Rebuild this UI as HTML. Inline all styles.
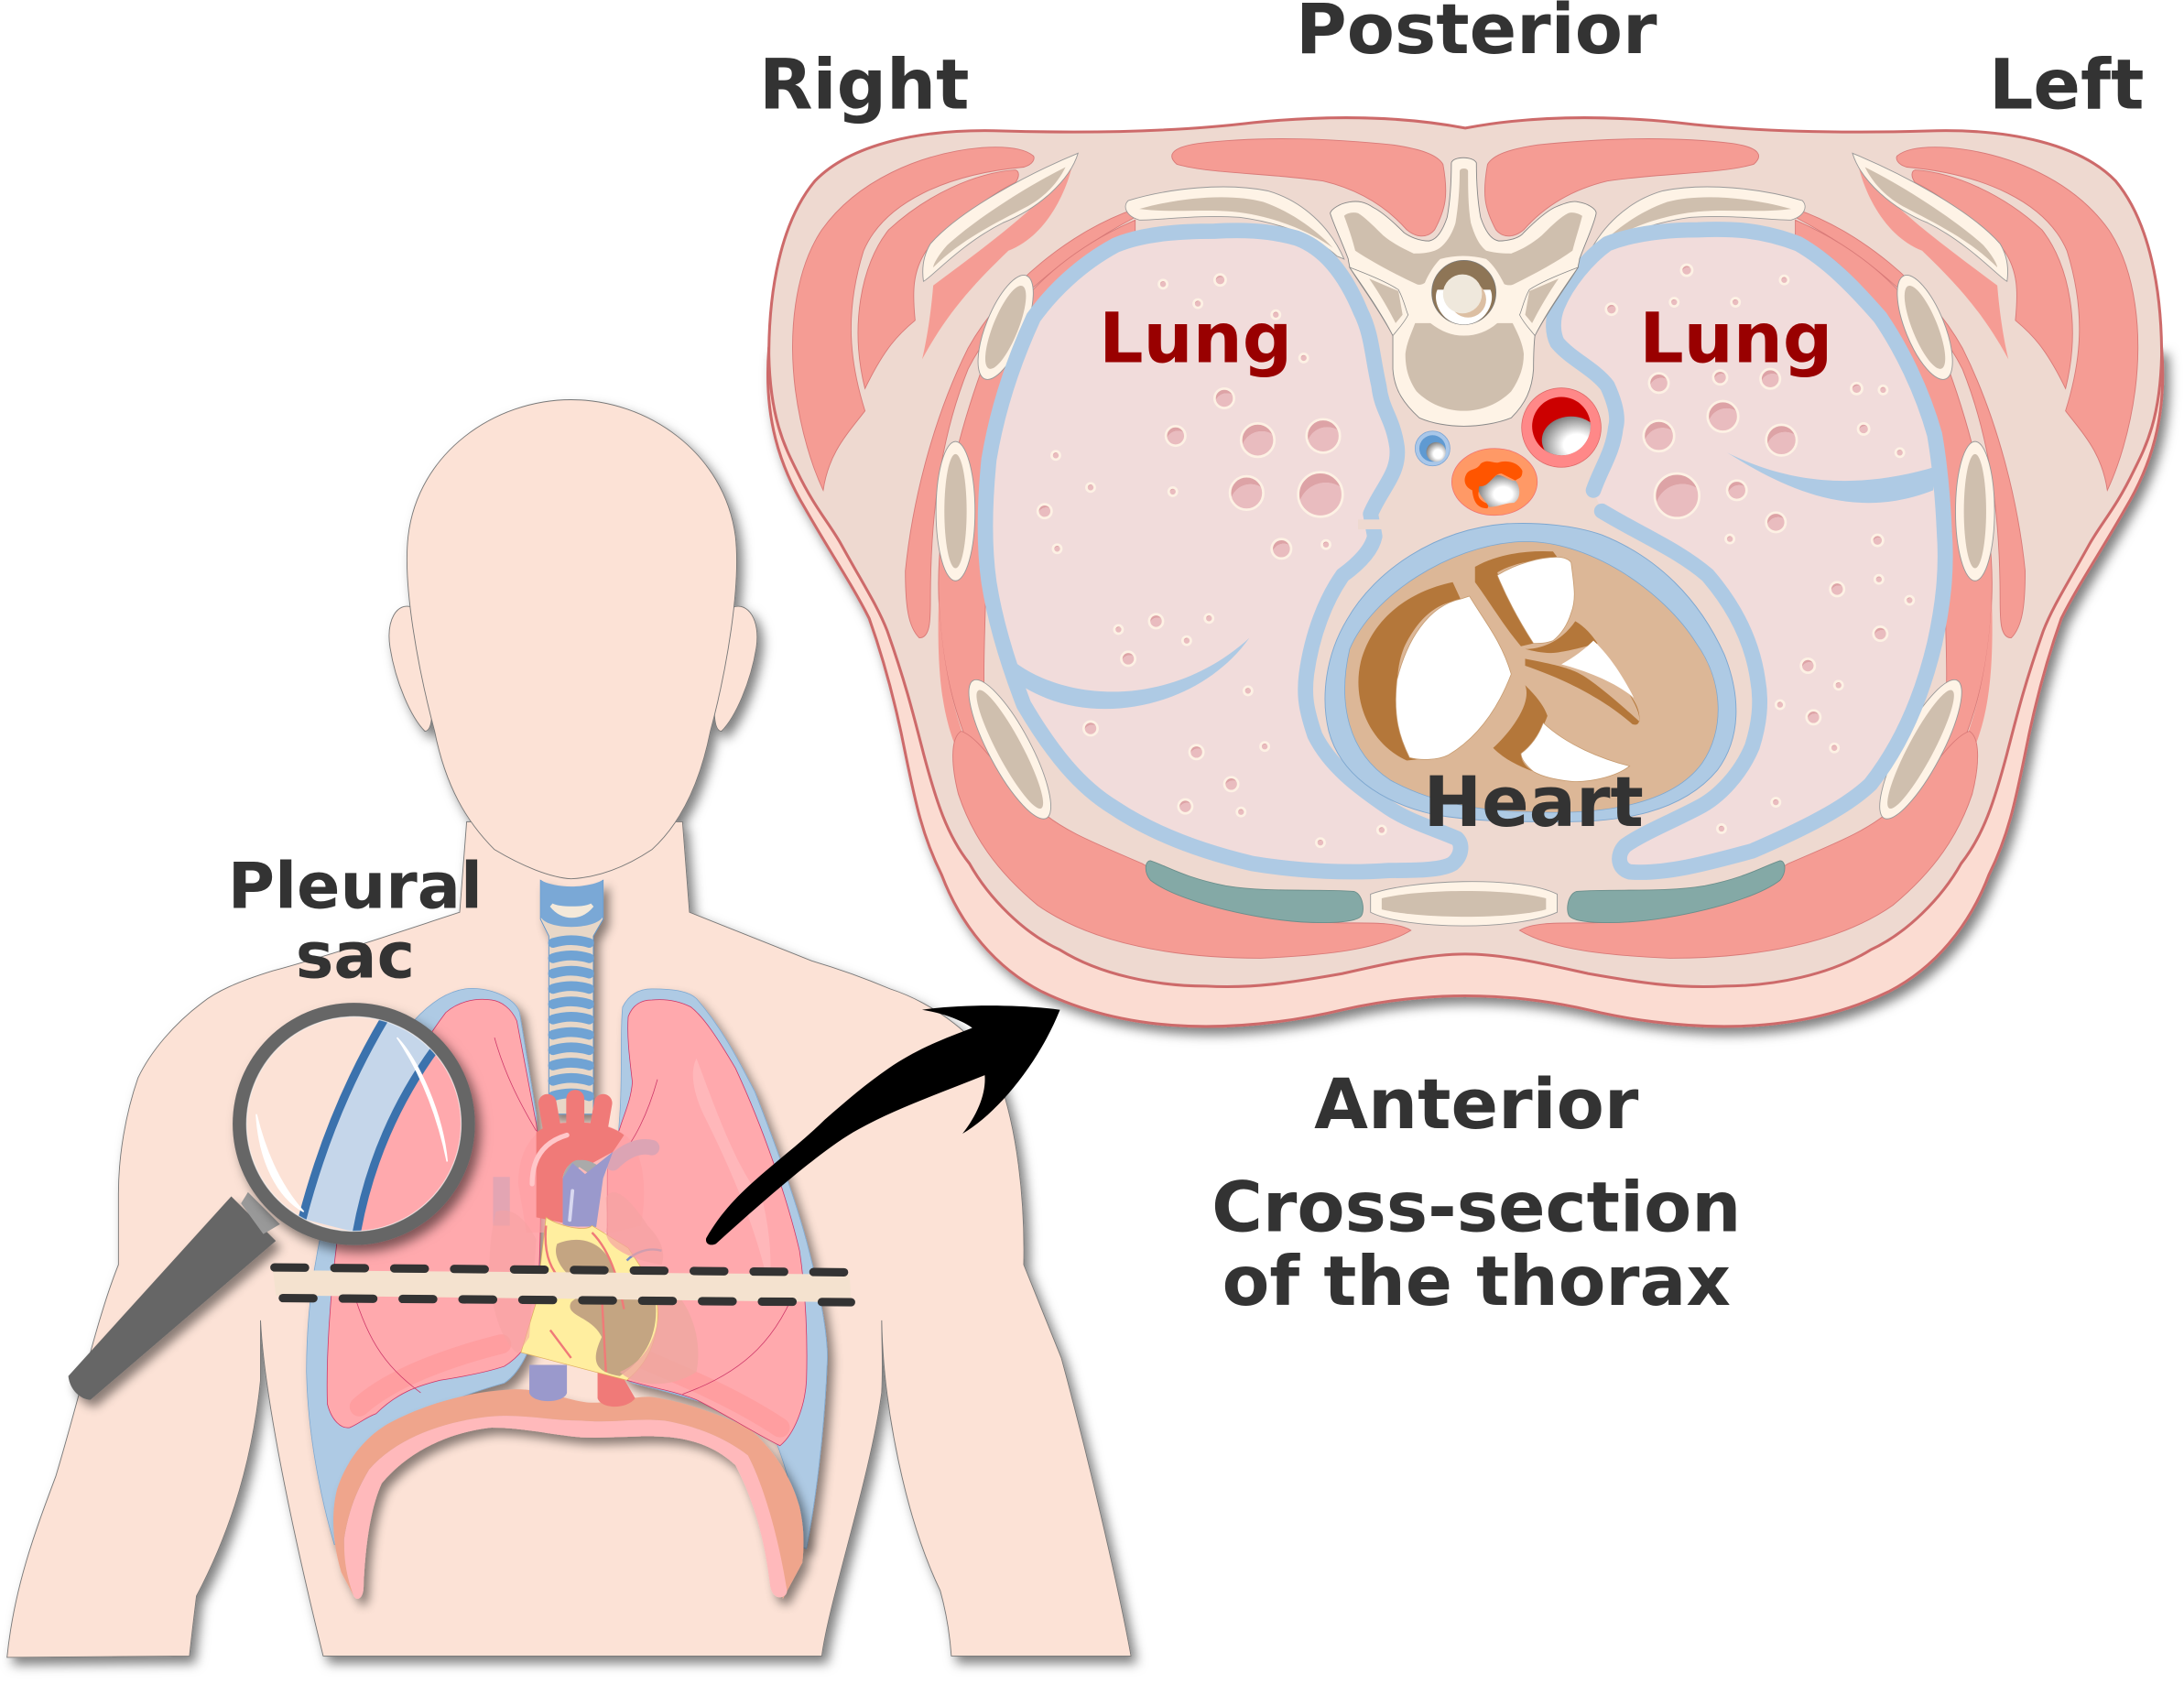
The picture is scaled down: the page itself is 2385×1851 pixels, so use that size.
<!DOCTYPE html>
<html><head><meta charset="utf-8"><style>
html,body{margin:0;padding:0;background:#fff}
svg{display:block}
text{font-family:"DejaVu Sans",sans-serif;font-weight:bold;fill:#333;font-size:50px}
.m{text-anchor:middle}
</style></head><body>
<svg width="2385" height="1851" viewBox="0 0 1568 1217" xmlns="http://www.w3.org/2000/svg">
<defs>
<filter id="sh" x="-10%" y="-10%" width="125%" height="125%"><feDropShadow dx="4" dy="5" stdDeviation="4" flood-color="#000" flood-opacity=".5"/></filter>
<filter id="sh2" x="-20%" y="-20%" width="150%" height="150%"><feDropShadow dx="4" dy="5" stdDeviation="3.5" flood-color="#000" flood-opacity=".45"/></filter>
<radialGradient id="lum" cx=".6" cy=".6" r=".65"><stop offset=".35" stop-color="#fff"/><stop offset="1" stop-color="#777"/></radialGradient>
<radialGradient id="nod" cx=".62" cy=".85" r=".62"><stop offset=".99" stop-color="#e9bcbf"/><stop offset="1" stop-color="#dda3a6"/></radialGradient>
<clipPath id="aoC"><circle cx="1121" cy="306" r="21"/></clipPath>
<clipPath id="magC"><ellipse cx="254" cy="807" rx="77" ry="77"/></clipPath>
<clipPath id="canal"><circle cx="1051" cy="210" r="23"/></clipPath>
<g id="half">
 <!-- outer muscles -->
 <path d="M742 112C735 106 720 105 705 106C660 110 615 130 590 165C570 195 566 240 571 280C575 310 583 335 591 352C595 325 608 312 621 295C610 260 606 225 620 180C635 145 680 125 735 120C742 118 743 114 742 112Z" fill="#f59c94" stroke="#d97a78" stroke-width=".6"/>
 <path d="M729 122C700 124 665 140 638 165C618 190 610 235 621 279C635 250 645 240 657 230C655 210 655 195 665 180C685 160 710 140 729 131C732 127 732 123 729 122Z" fill="#f59c94" stroke="#d97a78" stroke-width=".6"/>
 <path d="M770 118C745 150 710 175 670 205C668 230 664 250 662 258C680 225 698 205 724 180C750 170 765 140 770 118Z" fill="#f59c94"/>
 <!-- intercostal -->
 <path d="M815 150C770 165 720 205 695 250C670 300 655 360 650 410C650 435 652 450 660 458C668 458 668 445 668 430C668 370 675 315 695 265C715 225 760 185 815 156Z" fill="#f59c94" stroke="#d97a78" stroke-width=".6"/>
 <path d="M815 158C765 180 725 215 705 265C685 320 672 380 674 430C676 490 690 530 720 590C700 520 708 470 708 400C708 340 725 270 760 215C780 190 800 175 815 170Z" fill="#f59c94" stroke="#d97a78" stroke-width=".6"/>
 <path d="M720 585C690 540 677 490 674 430C672 490 678 520 690 545L715 600Z" fill="#f59c94"/>
 <!-- lower muscle -->
 <path d="M690 525C682 530 683 550 688 570C698 600 715 625 745 650C785 678 845 688 905 688C950 686 990 682 1013 668C1000 660 970 664 950 662C905 656 860 645 820 620C785 605 760 595 745 580C720 560 705 530 690 525Z" fill="#f59c94" stroke="#d97a78" stroke-width=".6"/>
 <!-- top back muscle -->
 <path d="M1036 118C1040 140 1038 150 1030 165C1024 172 1016 170 1010 165C995 148 975 136 950 130C910 124 870 125 845 118C838 112 840 106 860 103C910 97 960 100 1000 104C1020 107 1032 111 1036 118Z" fill="#f59c94" stroke="#d97a78" stroke-width=".6"/>
 <!-- shoulder blade -->
 <path d="M774 110C740 124 690 150 668 175C662 185 662 195 663 202C668 200 690 175 720 160C745 150 768 130 774 110Z" fill="#fef3e6" stroke="#999" stroke-width=".6"/>
 <path d="M765 120C735 135 700 158 680 176C673 184 670 190 670 192C690 172 715 160 738 148C752 140 760 130 765 120Z" fill="#cfbfae"/>
 <!-- ribs -->
 <ellipse cx="686" cy="367" rx="14" ry="50" fill="#fef3e6" stroke="#999" stroke-width=".6"/>
 <ellipse cx="686" cy="367" rx="8" ry="41" fill="#cfbfae"/>
 <ellipse cx="722" cy="235" rx="14" ry="40" transform="rotate(22 722 235)" fill="#fef3e6" stroke="#999" stroke-width=".6"/>
 <ellipse cx="722" cy="235" rx="9" ry="32" transform="rotate(22 722 235)" fill="#cfbfae"/>
 <ellipse cx="725" cy="538" rx="15" ry="56" transform="rotate(-28 725 538)" fill="#fef3e6" stroke="#999" stroke-width=".6"/>
 <ellipse cx="725" cy="538" rx="9" ry="48" transform="rotate(-28 725 538)" fill="#cfbfae"/>
 <!-- top rib -->
 <path d="M810 144C840 135 880 131 910 137C935 144 955 163 965 186L960 184C945 170 920 160 890 156C860 154 835 158 818 158C808 155 806 148 810 144Z" fill="#fef3e6" stroke="#999" stroke-width=".6"/>
 <path d="M818 150C850 141 885 139 907 145C927 152 945 165 957 178C940 166 915 155 885 152C865 150 840 153 818 150Z" fill="#cfbfae"/>
 <!-- teal cartilage -->
 <path d="M826 618C838 622 850 630 880 636C910 641 945 638 972 640C979 642 980 655 977 658C972 663 945 664 915 660C875 654 840 643 826 632C821 626 822 618 826 618Z" fill="#84a9a6" stroke="#6a8e8b" stroke-width=".6"/>
</g>
</defs>

<!-- ============ BODY ============ -->
<g filter="url(#sh)">
<path d="M335 590L330 655C290 668 240 685 196 697C170 705 155 712 145 720C125 735 108 755 99 774C90 800 85 830 85 857L85 908C70 945 58 1000 40 1060C25 1100 10 1140 5 1190L136 1189C138 1170 140 1155 141 1146C160 1110 180 1060 187 991L187 948C190 1010 215 1120 232 1189L590 1189C595 1150 625 1060 633 1000C634 980 633 965 633 948C634 1010 650 1090 675 1142C680 1160 682 1175 683 1189L812 1189C805 1150 785 1060 762 975L735 908C736 860 730 810 717 774C705 745 670 720 639 710C620 702 600 695 583 690L495 655L490 590Z" fill="#fce2d6" stroke="#777" stroke-width=".6"/>
<path d="M296 436C285 432 277 445 280 465C284 490 295 515 305 525C312 525 310 505 310 480L300 440Z" fill="#fce2d6" stroke="#777" stroke-width=".6"/>
<path d="M526 436C537 432 546 445 543 465C539 490 528 515 518 525C511 525 513 505 513 480L523 440Z" fill="#fce2d6" stroke="#777" stroke-width=".6"/>
<path d="M410 287C355 287 300 325 293 385C289 420 300 480 312 525C320 565 335 590 355 610C375 622 395 630 410 631C430 630 450 622 468 610C490 590 503 560 510 525C522 480 532 420 528 385C520 325 465 287 410 287Z" fill="#fce2d6" stroke="#777" stroke-width=".6"/>
</g>
<!-- trachea -->
<g filter="url(#sh2)">
<path d="M388 632C400 640 420 640 433 632L433 660L426 672L426 800L394 800L394 672L388 660Z" fill="#e8d7c7" stroke="#5a91c8" stroke-width=".6"/>
</g>
<path d="M388 632C400 638 420 638 433 632L433 658C428 668 392 668 388 658Z" fill="#7aa8d6"/>
<path d="M396 650C404 660 417 660 425 650C420 653 402 653 396 650Z" fill="#f4e9da" stroke="#f4e9da" stroke-width="3"/>
<g stroke="#70a3d4" stroke-width="7" stroke-linecap="round" fill="none">
<path d="M397 677Q410 673 423 677M397 688Q410 684 423 688M397 699Q410 695 423 699M397 710Q410 706 423 710M397 721Q410 717 423 721M397 732Q410 728 423 732M397 743Q410 739 423 743M397 754Q410 750 423 754M397 765Q410 761 423 765M397 776Q410 772 423 776M397 787Q410 783 423 787"/>
</g>
<!-- pleural sac -->
<g filter="url(#sh2)">
<path d="M334 710C320 712 307 722 297 733C285 745 277 760 270 774C250 815 235 860 228 898C222 930 220 960 220 985C221 1030 230 1075 240 1109L245 1105C246 1085 250 1075 262 1050C280 1022 320 1005 362 993C375 985 385 960 388 940L385 800C380 770 376 745 373 727C370 716 350 708 334 710Z" fill="#aecae4" stroke="#7da7d0" stroke-width=".5"/>
<path d="M447 723C452 713 460 710 468 710C485 710 495 712 500 717C520 740 532 765 542 784C560 830 572 865 579 891C588 925 594 955 594 975C592 1030 585 1080 579 1112L574 1110C572 1080 565 1055 556 1032C530 1012 490 1002 454 993C440 985 435 965 435 940L445 800C447 770 445 740 447 723Z" fill="#aecae4" stroke="#7da7d0" stroke-width=".5"/>
</g>
<!-- diaphragm -->
<g filter="url(#sh2)">
<path d="M245 1129C238 1105 238 1085 242 1069C250 1045 265 1030 279 1022C305 1008 335 1000 362 998C385 995 405 1005 422 1007C440 1008 455 1002 468 1003C490 1006 515 1015 537 1025C555 1040 568 1060 574 1082C578 1100 577 1112 576 1122L562 1148C560 1110 550 1070 537 1045C520 1032 500 1024 477 1020C455 1018 440 1022 417 1020C395 1020 375 1015 353 1017C320 1020 285 1032 265 1055C256 1070 250 1085 247 1105C247 1118 248 1130 254 1146Z" fill="#efa58c"/>
<path d="M254 1146C248 1130 247 1118 247 1105C250 1085 256 1070 265 1055C285 1032 320 1020 353 1017C375 1015 395 1020 417 1020C440 1022 455 1018 477 1020C500 1024 520 1032 537 1045C550 1070 560 1110 565 1142C565 1148 555 1150 553 1139C550 1115 545 1085 528 1052C515 1040 500 1034 482 1032C460 1030 440 1033 417 1032C395 1030 375 1025 353 1025C325 1028 295 1040 274 1065C265 1085 262 1115 261 1139C261 1148 256 1150 254 1146Z" fill="#ffb9bb"/>
</g>
<!-- lower vessels -->
<path d="M380 980L407 980L407 1000C405 1008 382 1008 380 1000Z" fill="#9a99cc"/>
<path d="M429 985L445 985L456 1004C450 1012 432 1012 429 1004Z" fill="#f07a78"/>
<!-- lungs -->
<path d="M353 718C340 716 328 720 320 727C295 760 270 810 255 850C245 870 240 885 242 891C237 930 234 975 235 1008C238 1020 245 1026 251 1025C258 1022 262 1018 270 1015C285 1000 300 995 316 991C335 988 350 985 362 981C372 975 380 965 385 951C388 900 390 850 385 807C380 780 375 755 371 733C367 724 360 719 353 718Z" fill="#ffa9ad" stroke="#cc3366" stroke-width=".5"/>
<path d="M468 718C460 718 454 722 451 730C450 745 452 760 454 777C453 790 448 800 445 810C440 825 436 835 436 844L436 960C438 975 445 988 450 991C470 997 485 999 500 1005C520 1015 540 1028 560 1038C570 1030 578 1010 579 991C580 955 578 925 574 898C565 860 548 810 528 767C515 745 505 730 496 723C488 719 478 717 468 718Z" fill="#ffa9ad" stroke="#cc3366" stroke-width=".5"/>
<path d="M500 760C508 780 528 840 547 860C552 880 555 905 552 925C545 890 530 850 505 800C498 785 495 770 500 760Z" fill="#ffb7ba"/>
<path d="M258 1010C280 990 320 975 360 965" stroke="#ff9ea0" stroke-width="14" fill="none" stroke-linecap="round"/>
<path d="M460 975C495 990 530 1005 560 1025" stroke="#ff9ea0" stroke-width="14" fill="none" stroke-linecap="round"/>
<path d="M355 745C362 770 372 790 385 812M472 775C465 800 455 820 445 830" stroke="#cc3366" stroke-width=".5" fill="none"/>
<path d="M250 915C262 960 275 980 302 1000M575 915C560 960 535 985 490 1001" stroke="#cc3366" stroke-width=".5" fill="none"/>
<!-- heart group -->
<path d="M372 850C372 825 384 812 395 808C400 806 410 805 416 806C430 805 445 810 452 818C462 830 465 855 460 880L440 885L378 885Z" fill="#ffa0a3" opacity=".6"/>
<path d="M440 835C450 825 460 822 468 824" stroke="#dca4b4" stroke-width="11" stroke-linecap="round" fill="none"/>
<path d="M360 845L360 880" stroke="#dca4b4" stroke-width="12" fill="none" opacity=".8"/>
<g stroke="#f07a78" stroke-width="13" stroke-linecap="round"><path d="M393 792L397 815M413 789L413 812M433 792L429 815"/></g>
<path d="M385 813C395 806 405 806 416 806C430 806 442 810 448 815L440 827L420 838C412 830 405 838 404 846L404 878L385 874Z" fill="#f07a78"/>
<path d="M404 846C405 838 412 832 416 833C422 832 428 836 431 838L422 842L416 838Z" fill="#aaa"/>
<path d="M404 846L411 835L420 843L440 827L433 846L428 881C420 880 410 882 404 879Z" fill="#9a99cc"/>
<path d="M411 855L409 876" stroke="#d8d8f0" stroke-width="2.5" stroke-linecap="round"/>
<path d="M382 850C382 832 390 820 407 815" stroke="#ffc7c9" stroke-width="3.5" stroke-linecap="round" fill="none"/>
<path d="M392 874C400 880 420 885 425 880L451 896L470 925C476 950 470 975 450 991L374 971L385 935Z" fill="#ffee9f" stroke="#e0b060" stroke-width=".5"/>
<path d="M400 893C420 885 435 895 440 910C445 915 443 925 440 930C410 925 395 905 400 893Z" fill="#c4a582"/>
<path d="M410 935C420 925 450 925 470 930C474 955 465 975 445 988C425 985 425 975 432 960C425 945 405 945 410 935Z" fill="#c4a582"/>
<path d="M392 880C390 900 395 915 410 925M425 885C440 900 445 925 448 940M432 930L435 985M395 955L410 975" stroke="#f07a78" stroke-width="1.6" fill="none"/>
<path d="M450 905C455 900 465 895 475 898" stroke="#7a8fc8" stroke-width="1.6" fill="none"/>
<path d="M435 860C440 850 452 860 465 880C475 890 478 900 475 908C455 905 430 895 436 880Z" fill="#f5a3a3" opacity=".7"/>
<path d="M470 915C495 930 505 960 500 985C480 998 455 995 445 985C470 975 478 945 470 915Z" fill="#efa8a0" opacity=".8"/>
<path d="M356 870C370 865 380 880 385 890L380 960L372 972C355 960 345 915 356 870Z" fill="#f5a3a3" opacity=".55"/>
<!-- slice -->
<path d="M196 912L610 915L611 935L198 930Z" fill="#f4e2cf"/>
<g stroke="#333" stroke-width="6" stroke-linecap="round" stroke-dasharray="22 21" fill="none">
<path d="M197 910L607 913.5"/>
<path d="M203 932L611 935"/>
</g>
<!-- magnifier -->
<path d="M166 859L198 891L65 1005C58 1005 50 998 49 988Z" fill="#666" filter="url(#sh2)"/>
<path d="M173 864L178 856L201 879L189 886Z" fill="#999"/>
<g filter="url(#sh)"><ellipse cx="254" cy="807" rx="87" ry="87" fill="#666"/></g>
<g clip-path="url(#magC)">
<rect x="170" y="720" width="170" height="170" fill="#fce2d6"/>
<path d="M277 730L380 730L380 890L256 890C262 840 280 790 311 754Z" fill="#ffa9ad"/>
<path d="M277 730L311 750C282 795 262 840 256 885L217 875C232 825 250 775 277 730Z" fill="#c5d6ea"/>
<path d="M277 730C250 775 230 825 217 875M313 752C285 790 265 835 256 885" stroke="#3b72ad" stroke-width="6" fill="none"/>
<path d="M285 745C300 760 318 800 321 834C314 800 302 770 285 745Z" fill="#fff" stroke="#fff" stroke-width="1"/>
<path d="M184 800C186 835 200 860 218 870C200 850 190 825 184 800Z" fill="#fff" stroke="#fff" stroke-width="1"/>
</g>
<ellipse cx="254" cy="807" rx="77" ry="77" fill="none" stroke="#fff" stroke-width=".8" opacity=".6"/>
<!-- black arrow -->
<path d="M507 889C518 870 530 858 546 844C562 830 578 818 592 804C608 790 622 778 638 767C660 752 680 745 698 738C690 732 675 727 662 725C690 721 730 721 761 725C745 765 715 800 691 814C702 800 708 785 707 772C675 785 645 795 616 811C590 825 545 865 514 893C510 895 506 893 507 889Z" fill="#000"/>

<!-- ============ CROSS SECTION ============ -->
<g filter="url(#sh)">
<path d="M552 250C548 300 560 335 578 365C595 395 612 420 624 444C635 475 643 505 650 541C657 575 662 600 676 628C690 665 715 695 748 712C785 730 825 737 866 737C900 737 935 732 964 725C995 718 1025 715 1052 715C1079 715 1109 718 1140 725C1169 732 1204 737 1238 737C1279 737 1319 730 1356 712C1389 695 1414 665 1428 628C1442 600 1447 575 1454 541C1461 505 1469 475 1480 444C1492 420 1509 395 1526 365C1544 335 1556 300 1552 250Z" fill="#fbdcd2" stroke="#cd6a6a" stroke-width="2"/>
</g>
<path d="M1052 92C1010 84 960 82 900 88C850 94 790 96 720 94C660 92 610 104 585 130C560 160 552 210 552 255C553 300 563 320 572 338C585 365 595 375 604 391C620 420 630 435 637 453C650 490 655 510 663 541C672 575 680 600 696 620C710 645 735 670 761 682C790 700 830 708 866 708C900 710 930 705 964 699C995 692 1025 685 1052 685C1079 685 1109 692 1140 699C1174 705 1204 710 1238 708C1274 708 1314 700 1343 682C1369 670 1394 645 1408 620C1424 600 1432 575 1441 541C1449 510 1454 490 1467 453C1474 435 1484 420 1500 391C1509 375 1519 365 1532 338C1541 320 1551 300 1552 255C1552 210 1544 160 1519 130C1494 104 1444 92 1384 94C1314 96 1254 94 1204 88C1144 82 1094 84 1052 92Z" fill="#eed9d0" stroke="#cd6a6a" stroke-width="2"/>
<use href="#half"/>
<use href="#half" transform="matrix(-1 0 0 1 2104 0)"/>
<!-- sternum -->
<path d="M984 642C1010 632 1090 628 1118 642L1118 655C1090 668 1010 668 984 655Z" fill="#fef3e6" stroke="#999" stroke-width=".6"/>
<path d="M992 645C1020 638 1085 638 1110 645L1110 653C1085 660 1020 660 992 653Z" fill="#cfbfae"/>
<!-- lungs cross-section -->
<path d="M984 369C992 350 1005 340 1003 321C1000 300 992 295 990 277C985 255 985 240 977 224C965 195 950 178 931 171C910 165 890 165 872 166C845 166 820 168 801 176C775 190 755 210 742 228C725 265 715 300 710 330C707 360 706 390 710 418C715 450 725 480 735 506C755 540 775 565 800 580C830 600 865 612 899 620C935 626 970 627 997 625C1015 625 1035 625 1043 620C1050 614 1050 606 1046 602C1030 595 1012 590 997 580C975 565 955 550 944 528C938 510 936 500 938 484C942 455 952 430 964 413C975 405 985 395 987 385Z" fill="#f1dcdb" stroke="#aecae4" stroke-width="11" stroke-linejoin="round"/>
<rect x="975" y="373" width="22" height="7" fill="#eed9d0"/>
<path d="M1150 367C1180 385 1205 395 1226 413C1245 435 1258 460 1262 488C1265 505 1263 520 1258 536C1250 555 1235 572 1219 580C1200 590 1180 598 1167 607C1160 614 1162 624 1170 626C1195 628 1225 620 1258 611C1295 595 1325 580 1343 563C1365 535 1380 500 1389 462C1395 435 1398 410 1396 382C1395 360 1393 335 1389 312C1380 280 1365 250 1350 228C1330 205 1312 187 1291 175C1265 165 1245 164 1219 165C1195 165 1172 168 1154 175C1140 185 1125 203 1118 220C1114 230 1115 240 1118 246C1128 258 1145 265 1154 277C1160 290 1162 300 1160 307C1158 325 1150 335 1144 352" fill="#f1dcdb" stroke="#aecae4" stroke-width="11" stroke-linejoin="round" stroke-linecap="round"/>
<path d="M722 470C760 505 840 510 897 458C860 510 780 525 730 490Z" fill="#aecae4"/>
<path d="M1240 325C1290 350 1340 350 1390 335L1388 352C1330 375 1280 350 1240 325Z" fill="#aecae4"/>
<!-- heart cross-section -->
<path d="M1082 376C1030 380 987 410 967 445C952 470 948 500 954 525C962 555 990 576 1030 585C1060 590 1085 590 1115 590C1165 591 1208 583 1233 553C1250 530 1250 500 1238 470C1220 430 1190 400 1150 384C1130 377 1105 375 1082 376Z" fill="#aecae4" stroke="#7da7d0" stroke-width=".6"/>
<path d="M1090 389C1040 392 985 428 969 466C960 505 968 540 998 560C1030 578 1070 583 1101 583C1150 585 1200 578 1222 548C1238 525 1238 490 1218 462C1195 425 1140 386 1090 389Z" fill="#dcb797" stroke="#7da7d0" stroke-width=".5"/>
<path d="M1043 418C1010 425 985 445 977 475C970 505 985 535 1010 546L1020 545C1005 520 998 490 1008 465C1020 440 1035 432 1049 431Z" fill="#b4773a"/>
<path d="M1049 430C1025 435 1010 460 1003 488C1000 515 1005 530 1012 544C1020 546 1032 546 1040 542C1060 530 1075 510 1085 484C1078 460 1065 445 1055 428Z" fill="#fff" stroke="#c69a6e" stroke-width=".5"/>
<path d="M1059 407C1075 398 1095 395 1115 396L1118 400C1100 402 1085 405 1075 411C1082 430 1092 448 1101 462L1092 464C1080 450 1068 430 1059 418Z" fill="#b4773a"/>
<path d="M1075 413C1088 405 1105 400 1118 400C1123 400 1127 402 1128 404C1130 420 1132 430 1128 440C1125 450 1120 456 1115 460C1110 462 1105 462 1101 462C1092 448 1082 430 1075 413Z" fill="#fff" stroke="#c69a6e" stroke-width=".5"/>
<path d="M1095 466C1105 466 1120 462 1131 446C1138 450 1143 456 1147 462C1135 465 1128 467 1121 468C1112 470 1103 468 1095 466Z" fill="#b4773a"/>
<path d="M1121 477C1130 472 1138 466 1144 460C1155 470 1165 485 1173 501C1160 490 1140 482 1121 477Z" fill="#fff"/>
<path d="M1095 473C1120 478 1130 480 1141 488C1155 498 1168 510 1177 518C1178 510 1173 502 1170 499C1180 515 1178 522 1172 520C1155 505 1130 490 1095 478Z" fill="#b4773a"/>
<path d="M1095 492C1100 505 1085 525 1072 537C1080 545 1090 550 1101 554C1094 550 1092 545 1092 541C1100 535 1107 525 1111 514C1108 505 1100 497 1095 492Z" fill="#b4773a"/>
<path d="M1108 519C1125 535 1150 545 1170 550C1160 558 1140 562 1128 561C1118 560 1108 558 1101 554C1096 550 1092 545 1092 541C1100 535 1105 527 1108 519Z" fill="#fff" stroke="#c69a6e" stroke-width=".5"/>
<!-- vertebra -->
<path d="M1042 117C1043 112 1058 112 1060 117C1060 130 1061 145 1063 156C1066 165 1070 172 1076 173C1085 173 1092 170 1094 167C1103 158 1110 152 1116 149C1125 145 1130 144 1133 145C1140 146 1146 150 1146 153C1145 160 1138 175 1134 186C1134 188 1133 190 1133 192C1125 205 1112 222 1102 241C1101 250 1101 258 1101 265C1100 280 1095 290 1085 300C1075 304 1062 306 1051 306C1040 306 1028 304 1019 300C1008 290 1001 280 1000 265C1000 258 1000 250 1000 241C990 222 977 205 969 192C969 190 968 188 968 186C964 175 957 160 955 153C956 150 962 146 969 145C975 144 980 145 986 149C992 152 999 158 1008 167C1012 170 1019 173 1026 173C1032 172 1036 165 1039 156C1041 145 1042 130 1042 117Z" fill="#fef3e6" stroke="#888" stroke-width=".6"/>
<path d="M1051 121C1049 121 1048 122 1048 123C1048 135 1047 148 1045 160C1042 170 1036 178 1030 180C1024 182 1020 182 1015 182C1006 178 999 174 993 169C986 162 980 156 975 153C971 152 967 153 965 155C968 163 971 172 973 180C985 188 1000 196 1017 204C1019 205 1022 204 1023 203C1026 196 1030 190 1034 186C1045 183 1056 183 1067 186C1072 190 1076 196 1080 204C1082 205 1085 205 1087 204C1103 196 1118 188 1129 180C1131 172 1134 163 1136 155C1133 153 1129 152 1126 153C1120 156 1114 162 1107 169C1100 175 1093 179 1085 182C1080 182 1075 182 1067 180C1062 176 1059 170 1056 160C1054 148 1054 135 1054 123C1054 122 1053 121 1051 121Z" fill="#cfbfae"/>
<path d="M1016 232L1027 232C1035 238 1042 241 1051 241C1060 241 1068 238 1075 232L1086 232C1090 240 1093 246 1094 254C1094 264 1091 272 1085 281C1076 290 1064 295 1051 295C1038 295 1026 290 1017 281C1011 272 1009 264 1009 254C1010 246 1013 240 1016 232Z" fill="#cfbfae"/>
<path d="M969 192C977 195 995 202 1004 208C1008 215 1010 225 1011 226C1008 232 1004 236 1000 241C992 225 978 205 969 192Z" fill="#fef3e6" stroke="#888" stroke-width=".5"/>
<path d="M983 200L1004 209L1007 226L1002 232C997 222 990 210 983 200Z" fill="#cfbfae"/>
<path d="M1133 192C1125 195 1107 202 1098 208C1094 215 1092 225 1091 226C1094 232 1098 236 1102 241C1110 225 1124 205 1133 192Z" fill="#fef3e6" stroke="#888" stroke-width=".5"/>
<path d="M1119 200L1098 209L1095 226L1100 232C1105 222 1112 210 1119 200Z" fill="#cfbfae"/>
<circle cx="1051" cy="210" r="23" fill="#8e7556" stroke="#777" stroke-width=".5"/>
<g clip-path="url(#canal)"><path d="M1032 208C1028 216 1035 233 1051 233C1067 233 1074 216 1070 208Z" fill="#fff"/><circle cx="1054" cy="215" r="13" fill="#dcbfa3"/></g>
<circle cx="1050" cy="211" r="14" fill="#efe8dc"/>
<!-- vessels -->
<circle cx="1121" cy="307" r="28.5" fill="#ff8888" stroke="#d66" stroke-width=".5"/>
<circle cx="1121" cy="306" r="21" fill="#cc0000"/>
<g clip-path="url(#aoC)"><ellipse cx="1128" cy="316" rx="21" ry="17" fill="url(#lum)"/></g>
<circle cx="1028.5" cy="322" r="12.5" fill="#a9c7e9" stroke="#7aa5d5" stroke-width=".5"/>
<circle cx="1028.5" cy="322" r="9.5" fill="#5f9ad2"/>
<circle cx="1031" cy="324.5" r="7" fill="url(#lum)"/>
<ellipse cx="1073" cy="346" rx="30.7" ry="24" fill="#ff9966" stroke="#f07070" stroke-width=".5"/>
<path d="M1053 340C1056 336 1060 338 1063 333C1068 329 1072 333 1076 332C1082 330 1090 332 1093 338C1093 344 1090 343 1088 345L1078 340C1073 340 1072 345 1066 349L1062 352C1060 357 1063 360 1069 362L1068 365C1062 365 1058 362 1057 352C1052 350 1050 345 1053 340Z" fill="#ff5500"/>
<path d="M1062 349C1068 350 1070 344 1075 341C1080 341 1084 346 1088 345C1092 350 1092 358 1087 361C1080 361 1076 364 1069 364C1066 358 1060 355 1062 349Z" fill="url(#lum)"/>
<!-- nodules -->
<g fill="url(#nod)" stroke="#fdf1e4" stroke-width="1.8">
<circle cx="835" cy="204" r="3"/><circle cx="876" cy="201" r="4"/><circle cx="860" cy="218" r="3"/><circle cx="916" cy="226" r="3"/><circle cx="936" cy="257" r="3"/><circle cx="879" cy="286" r="7"/><circle cx="844" cy="313" r="7"/><circle cx="903" cy="316" r="12"/><circle cx="950" cy="313" r="12"/><circle cx="895" cy="354" r="12"/><circle cx="948" cy="355" r="16"/><circle cx="758" cy="327" r="3"/><circle cx="783" cy="350" r="3"/><circle cx="842" cy="353" r="3"/><circle cx="750" cy="367" r="5"/><circle cx="759" cy="394" r="3"/><circle cx="920" cy="394" r="7"/><circle cx="952" cy="391" r="3"/><circle cx="803" cy="452" r="3"/><circle cx="830" cy="446" r="5"/><circle cx="868" cy="444" r="3"/><circle cx="852" cy="460" r="3"/><circle cx="810" cy="473" r="5"/><circle cx="896" cy="496" r="3"/><circle cx="783" cy="523" r="5"/><circle cx="859" cy="540" r="5"/><circle cx="908" cy="536" r="3"/><circle cx="884" cy="563" r="5"/><circle cx="891" cy="583" r="3"/><circle cx="851" cy="579" r="5"/><circle cx="948" cy="605" r="3"/><circle cx="992" cy="596" r="3"/>
<circle cx="1191" cy="275" r="7"/><circle cx="1235" cy="271" r="5"/><circle cx="1271" cy="272" r="7"/><circle cx="1237" cy="299" r="11"/><circle cx="1279" cy="316" r="11"/><circle cx="1191" cy="313" r="11"/><circle cx="1247" cy="352" r="7"/><circle cx="1204" cy="356" r="16"/><circle cx="1275" cy="375" r="7"/><circle cx="1242" cy="387" r="3"/><circle cx="1348" cy="388" r="4"/><circle cx="1338" cy="308" r="4"/><circle cx="1364" cy="325" r="3"/><circle cx="1333" cy="279" r="4"/><circle cx="1352" cy="280" r="3"/><circle cx="1319" cy="423" r="5"/><circle cx="1349" cy="416" r="3"/><circle cx="1371" cy="431" r="3"/><circle cx="1350" cy="455" r="5"/><circle cx="1298" cy="478" r="5"/><circle cx="1320" cy="492" r="3"/><circle cx="1278" cy="506" r="3"/><circle cx="1302" cy="515" r="5"/><circle cx="1317" cy="537" r="3"/><circle cx="1275" cy="576" r="3"/><circle cx="1236" cy="595" r="3"/><circle cx="1211" cy="194" r="4"/><circle cx="1281" cy="201" r="3"/><circle cx="1202" cy="217" r="3"/><circle cx="1246" cy="217" r="3"/><circle cx="1157" cy="222" r="4"/>
</g>
<!-- labels -->
<text class="m" x="1060" y="38">Posterior</text>
<text x="545" y="78">Right</text>
<text x="1428" y="78">Left</text>
<text x="789" y="260" style="fill:#990000">Lung</text>
<text x="1177" y="260" style="fill:#990000">Lung</text>
<text x="1022" y="593">Heart</text>
<text class="m" x="1060" y="810">Anterior</text>
<text class="m" x="1060" y="884">Cross-section</text>
<text class="m" x="1060" y="937" style="font-size:49.5px">of the thorax</text>
<text class="m" x="255" y="652" style="font-size:46px">Pleural</text>
<text class="m" x="255" y="702" style="font-size:46px">sac</text>
</svg>
</body></html>
